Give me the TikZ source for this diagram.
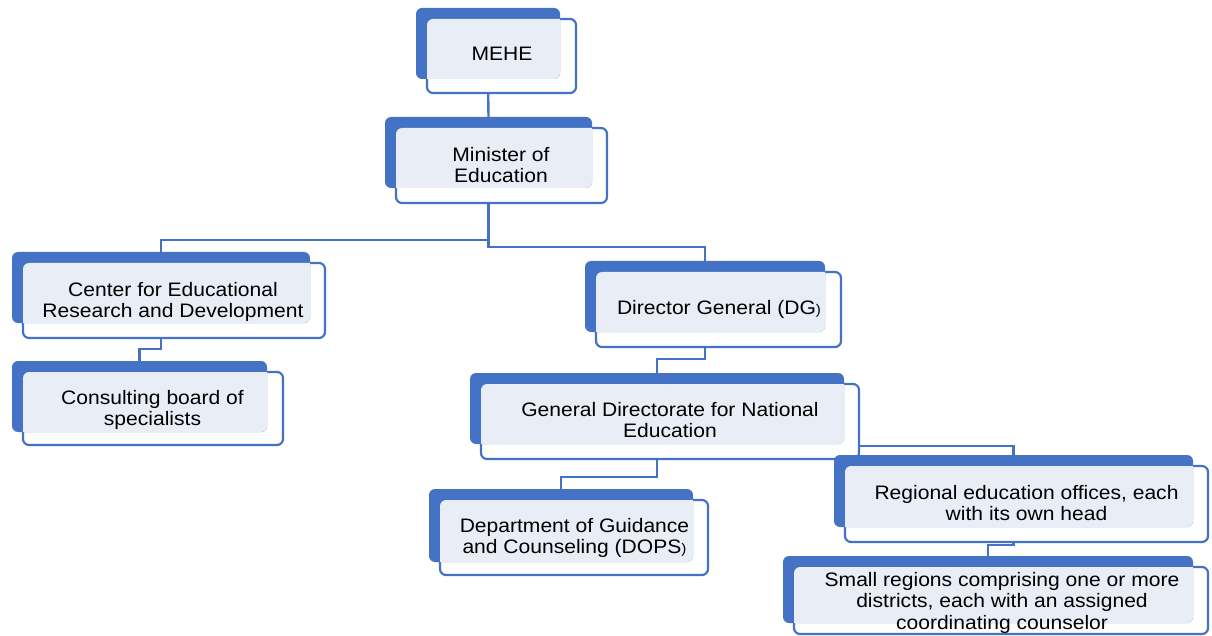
\documentclass[tikz,border=0pt]{standalone}
\usepackage{fontspec}
\setmainfont{Liberation Sans}[FakeStretch=1.08]
\definecolor{orgblue}{HTML}{4472C4}
\definecolor{orglight}{HTML}{E9EDF6}
\pgfdeclarelayer{bg}
\pgfsetlayers{bg,main}
% Org-chart box: a solid blue back plate with a framed card slid down and to the right.
% #1 name, #2-#5 back plate corners (x1,y1,x2,y2), #6-#7 lower-right corner of the card
\newcommand\orgbox[7]{%
  \draw[frontbox] (#2+11,#3+11) rectangle (#6,#7);
  \node[backbox,anchor=north west,minimum width={(#4-#2)*1pt},minimum height={(#5-#3)*1pt}] (#1) at (#2,#3) {};
  \begin{scope}
    \clip[rounded corners=6pt] (#2+11,#3+11) rectangle (#6,#7);
    \fill[orglight,rounded corners=6pt] (#2,#3) rectangle (#4,#5);
  \end{scope}
}
\begin{document}
\begin{tikzpicture}[x=1pt,y=-1pt,
  every node/.style={inner sep=0pt,outer sep=0pt},
  frontbox/.style={draw=orgblue,fill=white,line width=2.2pt,rounded corners=6pt},
  backbox/.style={rectangle,fill=orgblue,rounded corners=6pt},
  link/.style={draw=orgblue,line width=2.4pt},
  txt/.style={align=center,anchor=north,text=black,font=\fontsize{19.5pt}{21.5pt}\selectfont}]
\useasboundingbox (0,0) rectangle (1212,636);

% boxes
\orgbox{mehe}{416}{8}{560}{79}{576}{93}
\orgbox{minister}{385}{117}{592}{188}{607}{203}
\orgbox{cerd}{12}{252}{310}{323}{325}{338}
\orgbox{board}{12}{361}{267}{432}{283}{445}
\orgbox{dg}{585}{261}{825}{332}{841}{347}
\orgbox{gdne}{470}{373}{844}{444}{859}{459}
\orgbox{dops}{429}{489}{693}{562}{708}{575}
\orgbox{reg}{834}{455}{1193}{527}{1208}{542}
\orgbox{small}{783}{556}{1193}{623}{1208}{634}

% labels
\node[txt] (mehe-t) at (502,47) {MEHE};
\node[txt] (minister-t) at (501,147) {Minister of\\Education};
\node[txt] (cerd-t) at (173,282) {Center for Educational\\Research and Development};
\node[txt] (board-t) at (152.5,390) {Consulting board of\\specialists};
\node[txt] (dg-t) at (719,300) {Director General (DG{\fontsize{14pt}{14pt}\selectfont)}};
\node[txt] (gdne-t) at (670,402) {General Directorate for National\\Education};
\node[txt] (dops-t) at (574.5,518) {Department of Guidance\\and Counseling (DOPS{\fontsize{14pt}{14pt}\selectfont)}};
\node[txt] (reg-t) at (1026.5,485) {Regional education offices, each\\with its own head};
\node[txt] (small-t) at (1002,572) {Small regions comprising one or more\\districts, each with an assigned\\coordinating counselor};

% connectors, kept behind the boxes
\begin{pgfonlayer}{bg}
\draw[link] (mehe.south) -- (minister.north);
\draw[link] (minister.south) -- ++(0,52) -| (cerd.north);
\draw[link] (minister.south) -- ++(0,59) -| (dg.north);
\draw[link] (cerd.south) -- ++(0,26) -| (board.north);
\draw[link] (dg.south) -- ++(0,27) -| (gdne.north);
\draw[link] (gdne.south) -- ++(0,33) -| (dops.north);
\draw[link] (gdne.south) -- ++(0,2) -| (reg.north);
\draw[link] (reg.south) -- ++(0,18) -| (small.north);
\end{pgfonlayer}
\end{tikzpicture}
\end{document}
